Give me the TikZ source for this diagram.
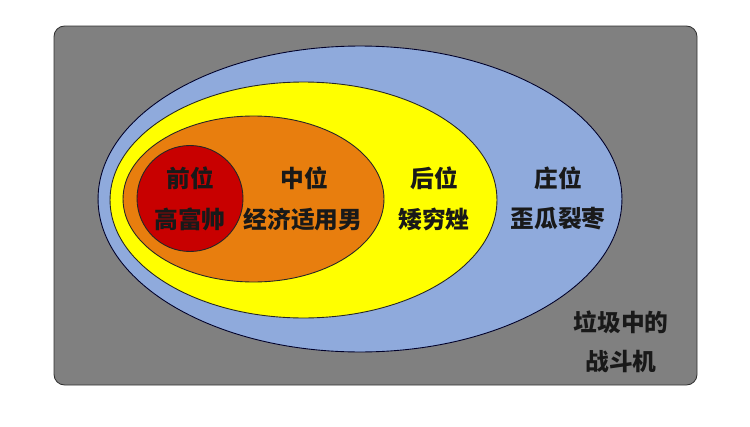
\documentclass[tikz,border=0pt]{standalone}
\usepackage{fontspec}
\setmainfont{Noto Sans CJK SC}
\usetikzlibrary{shapes.geometric}
\definecolor{bggray}{RGB}{128,128,128}
\definecolor{zhuangblue}{RGB}{143,170,220}
\definecolor{houyellow}{RGB}{255,255,0}
\definecolor{zhongorange}{RGB}{232,126,14}
\definecolor{qianred}{RGB}{200,0,0}
\tikzset{
  frame-box/.style={draw=black!80,fill=bggray,rounded corners=6pt,line width=0.5pt},
  ring/.style={draw=black!85,ellipse,inner sep=0pt,line width=0.5pt},
  ring-z/.style={ring,draw=black!60!blue!40!black,fill=zhuangblue},
  ring-h/.style={ring,fill=houyellow},
  ring-m/.style={ring,fill=zhongorange},
  ring-q/.style={ring,fill=qianred},
  label-t/.style={font=\fontsize{13.5}{15}\selectfont\bfseries,text=black!90},
}

\begin{document}
\begin{tikzpicture}[x=0.02cm,y=-0.02cm]

  \useasboundingbox (0,0) rectangle (750,426);

  % frame
  \draw[frame-box] (54,26) rectangle (697,385);

  % nested rings, outer to inner
  \node[ring-z,minimum width=10.48cm,minimum height=6.12cm] (zhuang) at (360,199) {};
  \node[ring-h,minimum width=7.74cm,minimum height=4.72cm] (hou) at (303.5,200) {};
  \node[ring-m,minimum width=5.22cm,minimum height=3.32cm] (zhong) at (253.5,199) {};
  \node[ring-q,circle,minimum size=2.12cm] (qian) at (190,198.5) {};

  % labels
  \node[label-t] (qian-a)   at (190,178) {前位};
  \node[label-t] (qian-b)   at (190,219) {高富帅};
  \node[label-t] (zhong-a)  at (304,178) {中位};
  \node[label-t] (zhong-b)  at (303,219) {经济适用男};
  \node[label-t] (hou-a)    at (434,178) {后位};
  \node[label-t] (hou-b)    at (434,219) {矮穷矬};
  \node[label-t] (zhuang-a) at (558,178) {庄位};
  \node[label-t] (zhuang-b) at (558,219) {歪瓜裂枣};
  \node[label-t] (la-a)     at (621,322) {垃圾中的};
  \node[label-t] (la-b)     at (621,361) {战斗机};

\end{tikzpicture}
\end{document}
